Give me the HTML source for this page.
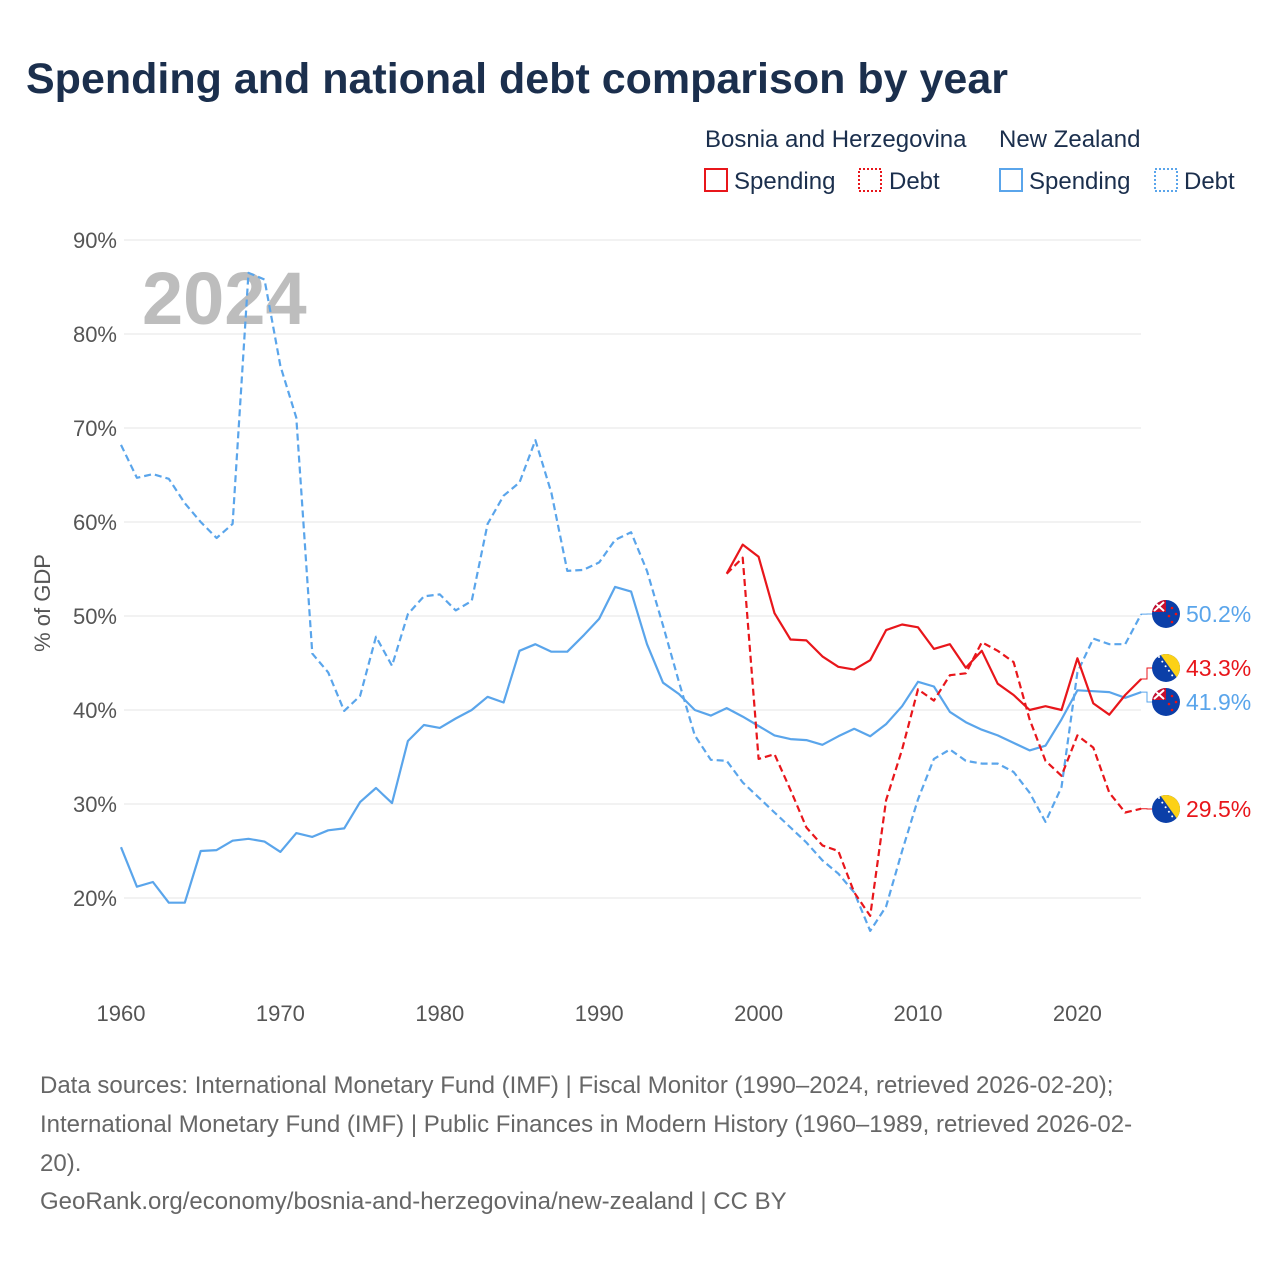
<!DOCTYPE html>
<html><head><meta charset="utf-8">
<style>
body{margin:0;background:#fff;font-family:"Liberation Sans",sans-serif;}
#wrap{position:relative;width:1280px;height:1280px;overflow:hidden;}
</style></head>
<body>
<div id="wrap">
<svg id="chart" width="1280" height="1280" viewBox="0 0 1280 1280" font-family="Liberation Sans, sans-serif">
<text x="26" y="93" font-size="43" font-weight="bold" fill="#1b2f4d">Spending and national debt comparison by year</text>
<g fill="#1b2f4d" font-size="24">
<text x="705" y="147">Bosnia and Herzegovina</text>
<text x="999" y="147">New Zealand</text>
<rect x="705" y="169" width="22" height="22" fill="none" stroke="#e8161b" stroke-width="2"/>
<text x="734" y="189">Spending</text>
<rect x="859" y="169" width="22" height="22" fill="none" stroke="#e8161b" stroke-width="2" stroke-dasharray="2,2"/>
<text x="889" y="189">Debt</text>
<rect x="1000" y="169" width="22" height="22" fill="none" stroke="#5aa5eb" stroke-width="2"/>
<text x="1029" y="189">Spending</text>
<rect x="1155" y="169" width="22" height="22" fill="none" stroke="#5aa5eb" stroke-width="2" stroke-dasharray="2,2"/>
<text x="1184" y="189">Debt</text>
</g>
<g id="grid"></g>
<text x="142" y="324" font-size="74" font-weight="bold" fill="#bdbdbd">2024</text>
<g id="series"></g>
<g id="ends"></g>
<text transform="translate(50,603) rotate(-90)" text-anchor="middle" font-size="22" fill="#555">% of GDP</text>
<g font-size="24" fill="#666">
<text x="40" y="1093">Data sources: International Monetary Fund (IMF) | Fiscal Monitor (1990–2024, retrieved 2026-02-20);</text>
<text x="40" y="1132">International Monetary Fund (IMF) | Public Finances in Modern History (1960–1989, retrieved 2026-02-</text>
<text x="40" y="1171">20).</text>
<text x="40" y="1209">GeoRank.org/economy/bosnia-and-herzegovina/new-zealand | CC BY</text>
</g>
</svg>
</div>
<script>
const yTicks=[20,30,40,50,60,70,80,90];
const xTicks=[1960,1970,1980,1990,2000,2010,2020];
const nzYears0=1960;
const nzSpending=[25.4,21.2,21.7,19.5,19.5,25.0,25.1,26.1,26.3,26.0,24.9,26.9,26.5,27.2,27.4,30.2,31.7,30.1,36.7,38.4,38.1,39.1,40.0,41.4,40.8,46.3,47.0,46.2,46.2,47.9,49.7,53.1,52.6,47.0,42.9,41.7,40.0,39.4,40.2,39.3,38.3,37.3,36.9,36.8,36.3,37.2,38.0,37.2,38.5,40.4,43.0,42.5,39.8,38.7,37.9,37.3,36.5,35.7,36.2,39.0,42.1,42.0,41.9,41.3,41.9];
const nzDebt=[68.2,64.7,65.1,64.6,62.0,60.0,58.3,59.8,86.5,85.8,76.6,71.1,46.0,44.0,39.9,41.5,47.8,44.7,50.2,52.1,52.3,50.6,51.6,59.8,62.8,64.2,68.7,63.1,54.8,54.9,55.7,58.1,58.9,54.8,49.0,43.0,37.3,34.7,34.6,32.3,30.7,29.1,27.5,25.9,24.0,22.6,20.6,16.5,19.1,25.0,30.5,34.8,35.8,34.6,34.3,34.3,33.4,31.2,28.1,31.8,44.0,47.6,47.0,47.0,50.2];
const bihYears0=1998;
const bihSpending=[54.5,57.6,56.3,50.3,47.5,47.4,45.7,44.6,44.3,45.3,48.5,49.1,48.8,46.5,47.0,44.5,46.3,42.8,41.6,40.0,40.4,40.0,45.5,40.7,39.5,41.6,43.3];
const bihDebt=[54.5,56.2,34.8,35.3,31.5,27.5,25.6,25.0,20.6,18.1,30.4,35.8,42.2,41.0,43.7,43.9,47.2,46.3,45.1,39.0,34.6,33.0,37.3,36.0,31.2,29.1,29.5];

const NS='http://www.w3.org/2000/svg';
const X=yr=>121+(yr-1960)*15.94;
const Y=v=>240+(90-v)*9.4;
function mk(tag,attrs,parent){const e=document.createElementNS(NS,tag);for(const k in attrs)e.setAttribute(k,attrs[k]);parent.appendChild(e);return e;}
const grid=document.getElementById('grid');
yTicks.forEach(t=>{
  const l=mk('line',{x1:124,x2:1141,y1:Y(t),y2:Y(t),stroke:'#e6e6e6','stroke-width':1},grid);
  
  
  const tx=mk('text',{x:117,y:Y(t)+8,'text-anchor':'end','font-size':22,fill:'#555'},grid);
  tx.textContent=t+'%';
  
  
});
xTicks.forEach(t=>{
  const tx=mk('text',{x:X(t),y:1021,'text-anchor':'middle','font-size':22,fill:'#555'},grid);
  tx.textContent=t;
  
  
});
const ser=document.getElementById('series');
function line(vals,y0,color,dash,name){
  const d=vals.map((v,i)=>(i?'L':'M')+X(y0+i).toFixed(1)+','+Y(v).toFixed(1)).join('');
  const p=mk('path',{d:d,fill:'none',stroke:color,'stroke-width':2.2,'stroke-linejoin':'round'},ser);
  if(dash)p.setAttribute('stroke-dasharray','7,4');
  
  
}
const BLUE='#5aa5eb',RED='#e8161b';
line(nzSpending,nzYears0,BLUE,false,'nz-spending-line');
line(nzDebt,nzYears0,BLUE,true,'nz-debt-line');
line(bihSpending,bihYears0,RED,false,'bih-spending-line');
line(bihDebt,bihYears0,RED,true,'bih-debt-line');

const ends=document.getElementById('ends');
function flag(cx,cy,type,name){
  const g=mk('g',{},ends);
  
  
  const id='c'+name;
  const cp=mk('clipPath',{id:id},g);mk('circle',{cx:cx,cy:cy,r:14},cp);
  const inner=mk('g',{'clip-path':'url(#'+id+')'},g);
  mk('rect',{x:cx-14,y:cy-14,width:28,height:28,fill:'#0b3fa8'},inner);
  if(type==='nz'){
    mk('rect',{x:cx-14,y:cy-14,width:14,height:12,fill:'#c8102e'},inner);
    mk('path',{d:`M${cx-12} ${cy-12}L${cx-2} ${cy-3}M${cx-2} ${cy-12}L${cx-12} ${cy-3}`,stroke:'#fff','stroke-width':2},inner);
    [[6,-6],[10,0],[3,2],[6,8]].forEach(p=>mk('circle',{cx:cx+p[0],cy:cy+p[1],r:1.3,fill:'#e11'},inner));
  }else{
    mk('path',{d:`M${cx-6} ${cy-14}L${cx+14} ${cy-14}L${cx+14} ${cy+14}Z`,fill:'#fcd116'},inner);
    for(let i=0;i<6;i++)mk('circle',{cx:cx-7+i*3.3,cy:cy-11+i*4.6,r:1,fill:'#fff'},inner);
  }
}
function endLabel(val,yDot,yFlag,color,type,name,txt){
  mk('path',{d:`M1141 ${Y(val)}H1147V${yFlag}H1152`,fill:'none',stroke:color,'stroke-width':1},ends);
  flag(1166,yFlag,type,name+'-flag');
  const t=mk('text',{x:1186,y:yFlag+8,'font-size':23,fill:color},ends);
  t.textContent=txt;
  
  
}
endLabel(nzDebt[nzDebt.length-1],0,614,BLUE,'nz','nz-debt-end','50.2%');
endLabel(bihSpending[bihSpending.length-1],0,668,RED,'bih','bih-spending-end','43.3%');
endLabel(nzSpending[nzSpending.length-1],0,702,BLUE,'nz','nz-spending-end','41.9%');
endLabel(bihDebt[bihDebt.length-1],0,809,RED,'bih','bih-debt-end','29.5%');
</script>
</body></html>
